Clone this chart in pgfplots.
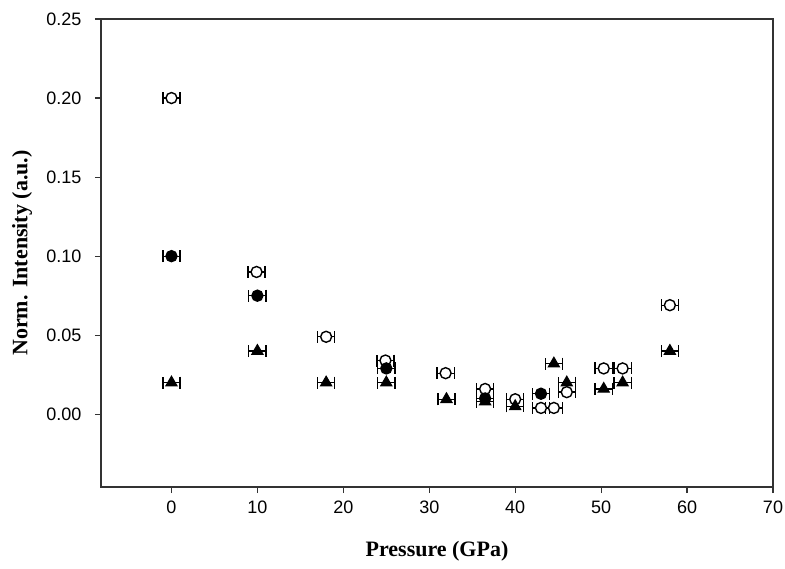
\documentclass[border=0pt]{standalone}
\usepackage{fontspec}
\setmainfont{Liberation Serif}
\setsansfont{Liberation Sans}
\usepackage{pgfplots}
\usepackage{pgfplotstable}
\pgfplotsset{compat=1.18}

\pgfplotstableread{
x y ex
0 0.200 1
9.9 0.090 1
18 0.049 1
24.9 0.034 1
31.9 0.026 1
36.5 0.016 1
40 0.0095 1
43 0.004 1
44.5 0.004 1
46 0.014 1
50.3 0.029 1
52.5 0.029 1
58 0.069 1
}\opencirc

\pgfplotstableread{
x y ex
0 0.100 1
10 0.075 1
25 0.029 1
36.5 0.010 1
43 0.013 1
}\fillcirc

\pgfplotstableread{
x y ex
0 0.020 1
10 0.040 1
18 0.020 1
25 0.020 1
32 0.0095 1
36.5 0.008 1
40 0.005 1
44.5 0.032 1
46 0.020 1
50.3 0.016 1
52.5 0.020 1
58 0.040 1
}\tri

\begin{document}
\begin{tikzpicture}
\begin{axis}[
  scale only axis, width=672pt, height=468pt,
  xmin=-8.2, xmax=70, ymin=-0.046, ymax=0.25,
  xtick={0,10,20,30,40,50,60,70},
  ytick={0,0.05,0.10,0.15,0.20,0.25},
  tick pos=left, tick align=outside, major tick length=6pt,
  axis line style={line width=1.2pt, black!80},
  tick style={line width=1.2pt, black!80},
  /pgf/number format/assume math mode=true,
  ticklabel style={font=\sffamily\fontsize{18}{18}\selectfont},
  yticklabel style={/pgf/number format/fixed, /pgf/number format/fixed zerofill, /pgf/number format/precision=2, xshift=-10pt},
  xticklabel style={yshift=-4pt},
  xlabel={Pressure (GPa)},
  ylabel={Norm. Intensity (a.u.)},
  label style={font=\bfseries\fontsize{22}{22}\selectfont},
  xlabel style={at={(axis description cs:0.5,0)}, anchor=center, yshift=-64pt},
  ylabel style={at={(axis description cs:0,0.5)}, anchor=center, yshift=79pt},
  error bars/error mark=|,
  error bars/error bar style={line width=1.3pt, black},
  error bars/error mark options={line width=1.3pt, mark size=6pt, black, rotate=0},
]
\addplot[only marks, mark=*, mark size=5.5pt, mark options={line width=1.4pt, draw=black, fill=white},
  error bars/.cd, x dir=both, x explicit] table[x=x, y=y, x error=ex] {\opencirc};
\addplot[only marks, mark=*, mark size=5.5pt, mark options={line width=1.4pt, draw=black, fill=black},
  error bars/.cd, x dir=both, x explicit] table[x=x, y=y, x error=ex] {\fillcirc};
\addplot[only marks, mark=triangle*, mark size=6.5pt, mark options={line width=1pt, draw=black, fill=black},
  error bars/.cd, x dir=both, x explicit] table[x=x, y=y, x error=ex] {\tri};
\end{axis}
\pgfresetboundingbox
\path (current axis.south west) +(-101pt,-81pt) rectangle ([shift={(12pt,19pt)}]current axis.north east);
\end{tikzpicture}
\end{document}
